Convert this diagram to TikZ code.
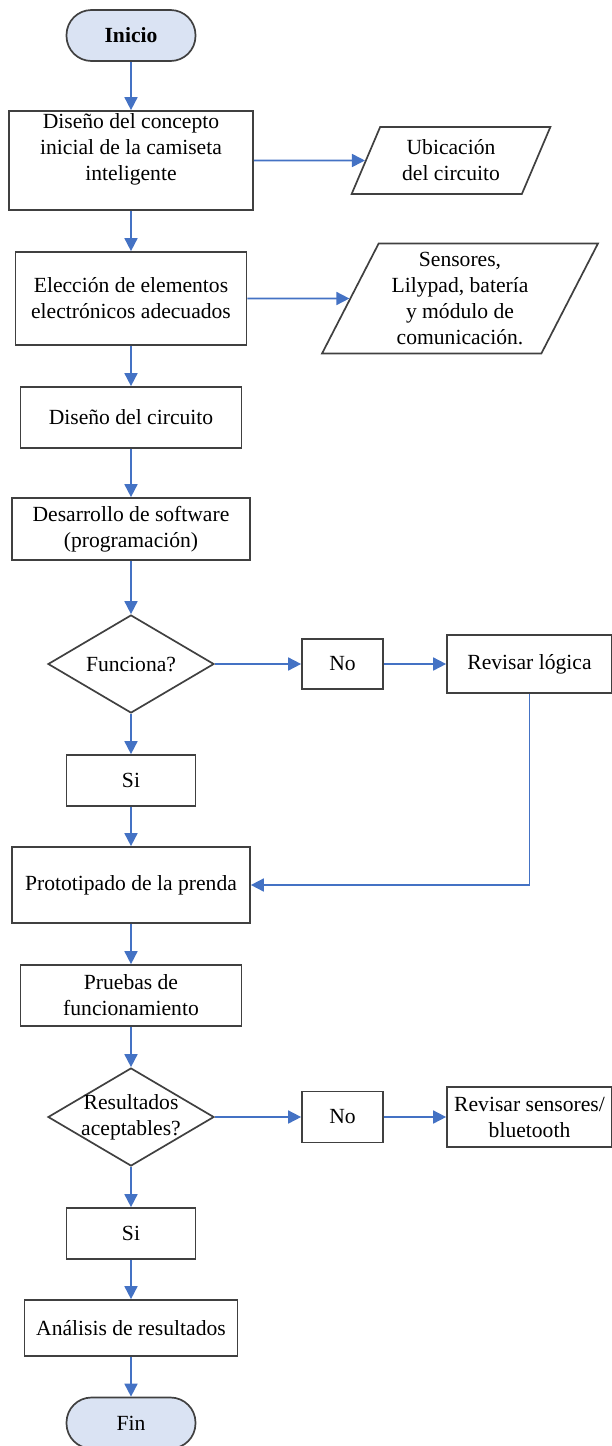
\documentclass[tikz,border=0pt]{standalone}
\usepackage{fontspec}
\setmainfont{Liberation Serif}
\usetikzlibrary{shapes.geometric,arrows.meta}

\begin{document}
\begin{tikzpicture}[x=0.5pt,y=-0.5pt,
    font=\fontsize{10.8}{13}\selectfont,
    caja/.style={draw=myborde, line width=0.85pt, rectangle, align=center, inner sep=0pt},
    terminal/.style={caja, fill=myterm, rounded corners=12.5pt, minimum width=64.5pt, minimum height=25.5pt},
    datos/.style={caja, trapezium, trapezium stretches=true},
    decision/.style={caja, diamond, minimum width=83pt, minimum height=49pt},
    flecha/.style={myflecha, line width=0.85pt, -{Triangle[length=6.5pt,width=6.5pt]}}]
    \definecolor{myborde}{RGB}{64,64,64}
    \definecolor{myterm}{RGB}{218,227,243}
    \definecolor{myflecha}{RGB}{68,114,196}

    \useasboundingbox (0,0) rectangle (611,1446);

    \node[terminal, font=\fontsize{10.8}{13}\selectfont\bfseries] (ini) at (131,35.5) {Inicio};
    \node[caja, minimum width=122pt, minimum height=49.5pt] (b1) at (131,160.5)
        {Diseño del concepto\\inicial de la camiseta\\inteligente\\ \mbox{}};
    \node[datos, trapezium left angle=64.5, trapezium right angle=115.5,
        minimum width=100pt, minimum height=33.5pt] (p1) at (451,160.5)
        {Ubicación\\del circuito};
    \node[caja, minimum width=115.5pt, minimum height=46.5pt] (b2) at (131,298.5)
        {Elección de elementos\\electrónicos adecuados};
    \node[datos, trapezium left angle=62.8, trapezium right angle=117.2,
        minimum width=138pt, minimum height=55pt] (p2) at (460,298.5)
        {Sensores,\\Lilypad, batería\\y módulo de\\comunicación.};
    \node[caja, minimum width=110.5pt, minimum height=30.5pt] (b3) at (131,417.5) {Diseño del circuito};
    \node[caja, minimum width=119pt, minimum height=31pt] (b4) at (131,529)
        {Desarrollo de software\\(programación)};
    \node[decision, label={[align=center]center:Funciona?}] (d1) at (131,664) {};
    \node[caja, minimum width=40.5pt, minimum height=25pt] (no1) at (342.5,664) {No};
    \node[caja, minimum width=82.5pt, minimum height=29pt] (rl) at (529.5,664) {Revisar lógica};
    \node[caja, minimum width=64.5pt, minimum height=25.5pt] (si1) at (131,780.5) {Si};
    \node[caja, minimum width=119pt, minimum height=38pt] (proto) at (131,885) {Prototipado de la prenda};
    \node[caja, minimum width=110.5pt, minimum height=30.5pt] (pr) at (131,995.5)
        {Pruebas de\\funcionamiento};
    \node[decision, label={[align=center]center:Resultados\\aceptables?}] (d2) at (131,1117) {};
    \node[caja, minimum width=40.5pt, minimum height=25.5pt] (no2) at (342.5,1117) {No};
    \node[caja, minimum width=82.5pt, minimum height=30pt] (rs) at (529.5,1117)
        {Revisar sensores/\\bluetooth};
    \node[caja, minimum width=64.5pt, minimum height=25.5pt] (si2) at (131,1233.5) {Si};
    \node[caja, minimum width=106.5pt, minimum height=28pt] (an) at (131,1328) {Análisis de resultados};
    \node[terminal] (fin) at (131,1423) {Fin};

    \foreach \a/\b in {ini/b1, b1/p1, b1/b2, b2/p2, b2/b3, b3/b4, b4/d1, d1/no1, no1/rl,
        d1/si1, si1/proto, proto/pr, pr/d2, d2/no2, no2/rs, d2/si2, si2/an, an/fin}
        \draw[flecha] (\a) -- (\b);
    \draw[flecha] (rl.south) |- (proto.east);
\end{tikzpicture}
\end{document}
